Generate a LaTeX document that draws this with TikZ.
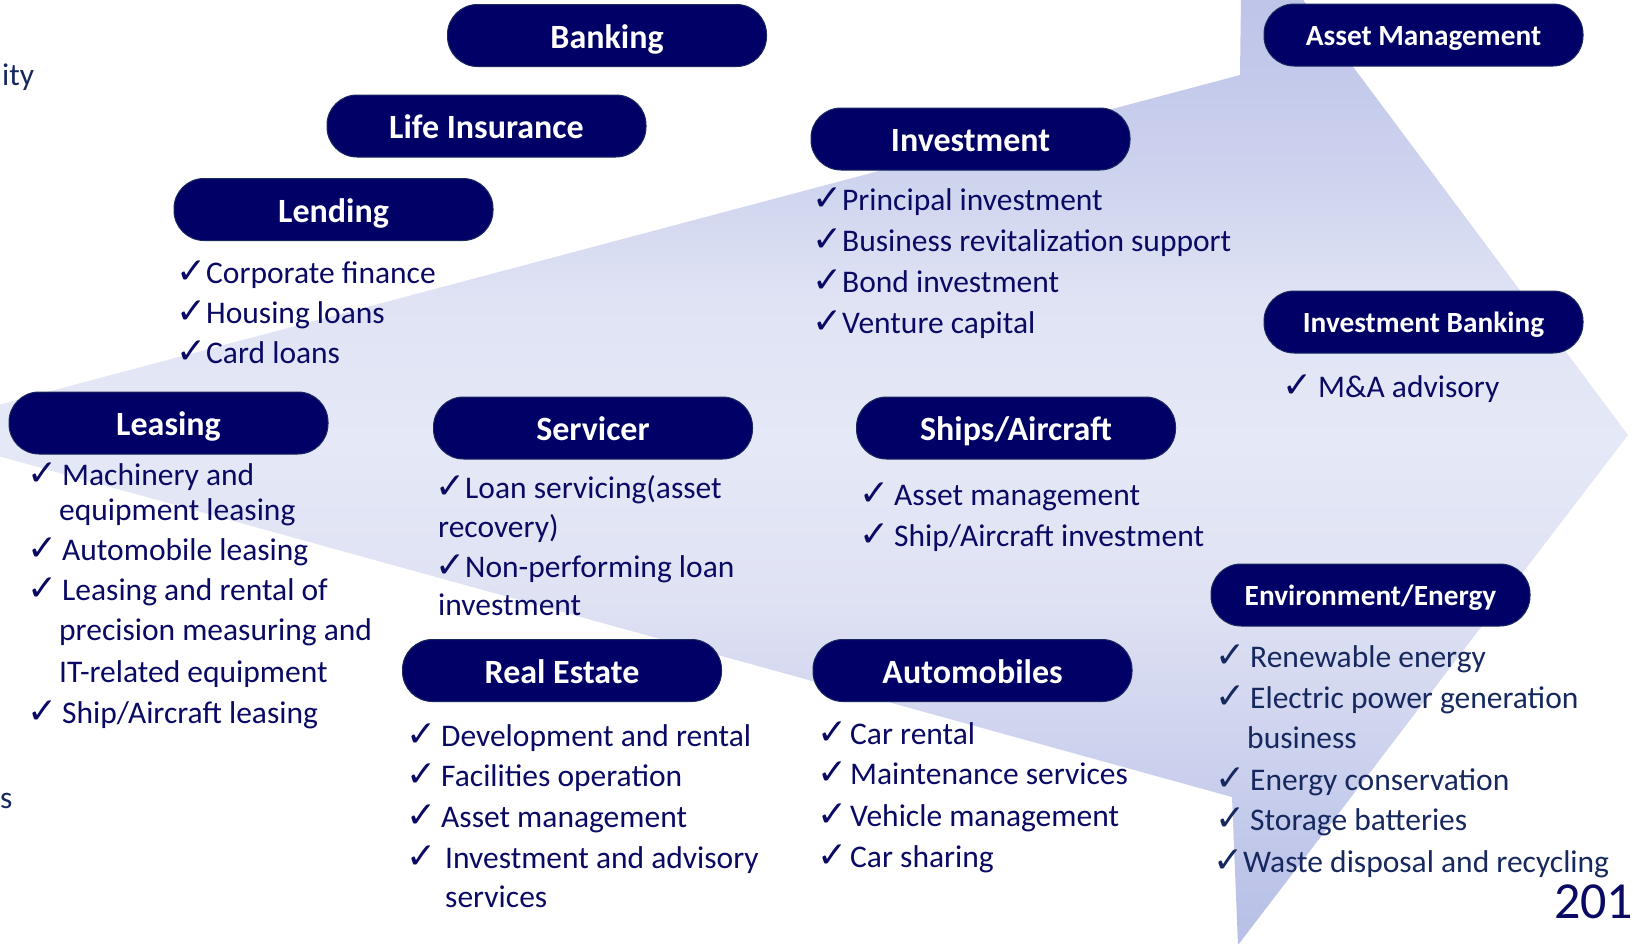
\documentclass[tikz,border=0pt]{standalone}
\usepackage{fontspec}
\setmainfont{Carlito}
\newfontfamily\chkfont{DejaVu Sans}
\definecolor{boxnavy}{RGB}{0,0,102}
\definecolor{boxedge}{RGB}{25,40,95}
\definecolor{textnavy}{RGB}{10,10,100}
\definecolor{textblue}{RGB}{22,40,94}
\pgfdeclareverticalshading{arrowsh}{100bp}{rgb(0bp)=(0.718,0.749,0.902); rgb(25bp)=(0.718,0.749,0.902); rgb(29.6bp)=(0.753,0.780,0.914); rgb(34.5bp)=(0.804,0.824,0.933); rgb(41.8bp)=(0.875,0.886,0.953); rgb(49.6bp)=(0.898,0.910,0.965); rgb(56.4bp)=(0.878,0.890,0.957); rgb(62.7bp)=(0.804,0.827,0.933); rgb(67.4bp)=(0.765,0.788,0.918); rgb(75bp)=(0.725,0.753,0.902); rgb(100bp)=(0.725,0.753,0.902)}
% tight check (text right after the mark)
\newcommand\ck[1]{\makebox[#1pt][r]{\chkfont\fontsize{36}{40}\selectfont ✓}}
% spaced check (gap between mark and text)
\newcommand\cks[1]{\makebox[#1pt][l]{\hspace*{-4.5pt}\chkfont\fontsize{36}{40}\selectfont ✓}}
\begin{document}
\begin{tikzpicture}[x=1pt,y=-1pt,
 pill/.style={draw=boxedge, line width=1pt, fill=boxnavy, text=white, rounded corners=30pt, minimum width=319pt, minimum height=62pt, inner sep=0pt, text height=25pt, text depth=0pt, font=\bfseries\fontsize{34}{40}\selectfont},
 pillsm/.style={pill, text height=21pt, font=\bfseries\fontsize{29.3}{34}\selectfont},
 item/.style={anchor=base west, inner sep=0pt, text=textnavy, font=\fontsize{31.5}{38}\selectfont},
 itemb/.style={item, text=textblue}]
\useasboundingbox (0,0) rectangle (1633,943);
\begin{scope}
\clip (0,0) rectangle (1633,943);
\shade[shading=arrowsh] (-96,430) -- (1240,75) -- (1242,-82) -- (1628,435) -- (1238,945) -- (1232,797) -- cycle;
\end{scope}

\node[pill] (banking) at (607,35.5) {Banking};
\node[pill] (life) at (486.5,126) {Life Insurance};
\node[pill] (lending) at (333.5,209.5) {Lending};
\node[pill] (invest) at (970.5,139) {Investment};
\node[pillsm] (asset) at (1423.5,35) {Asset Management};
\node[pillsm] (ib) at (1423.5,322) {Investment Banking};
\node[pill] (leasing) at (168.5,423) {Leasing};
\node[pill] (servicer) at (593,428) {Servicer};
\node[pill] (ships) at (1016,428) {Ships/Aircraft};
\node[pillsm] (env) at (1370.5,595) {Environment/Energy};
\node[pill] (realestate) at (562,670.5) {Real Estate};
\node[pill] (auto) at (972.5,670.5) {Automobiles};

% Lending
\node[item] (ld1) at (183,283) {\ck{23}Corporate finance};
\node[item] (ld2) at (183,323) {\ck{23}Housing loans};
\node[item] (ld3) at (183,363) {\ck{23}Card loans};
% Investment
\node[item] (in1) at (818,210) {\ck{24}Principal investment};
\node[item] (in2) at (818,251) {\ck{24}Business revitalization support};
\node[item] (in3) at (818,292) {\ck{24}Bond investment};
\node[item] (in4) at (818,333) {\ck{24}Venture capital};
% Investment Banking
\node[item] (ib1) at (1287,397) {\cks{31}M\&A advisory};
% Leasing
\node[item] (ls1) at (32,485) {\cks{30}Machinery and};
\node[item] (ls1b) at (59,520) {equipment leasing};
\node[item] (ls2) at (32,560) {\cks{30}Automobile leasing};
\node[item] (ls3) at (32,600) {\cks{30}Leasing and rental of};
\node[item] (ls3b) at (59,640) {precision measuring and};
\node[item] (ls3c) at (59,682) {IT-related equipment};
\node[item] (ls4) at (32,723) {\cks{30}Ship/Aircraft leasing};
% Servicer
\node[item] (sv1) at (440,498) {\ck{25}Loan servicing(asset};
\node[item] (sv1b) at (438,537) {recovery)};
\node[item] (sv2) at (440,577) {\ck{25}Non-performing loan};
\node[item] (sv2b) at (438,615) {investment};
% Ships/Aircraft
\node[item] (sh1) at (864,505) {\cks{30}Asset management};
\node[item] (sh2) at (864,546) {\cks{30}Ship/Aircraft investment};
% Real Estate
\node[item] (re1) at (411,746) {\cks{30}Development and rental};
\node[item] (re2) at (411,786) {\cks{30}Facilities operation};
\node[item] (re3) at (411,827) {\cks{30}Asset management};
\node[item] (re4) at (411,868) {\cks{34}Investment and advisory};
\node[item] (re4b) at (445,907) {services};
% Automobiles
\node[item] (au1) at (822,744) {\cks{28}Car rental};
\node[item] (au2) at (822,784) {\cks{28}Maintenance services};
\node[item] (au3) at (822,826) {\cks{28}Vehicle management};
\node[item] (au4) at (822,867) {\cks{28}Car sharing};
% Environment/Energy
\node[itemb] (en1) at (1220,667) {\cks{30}Renewable energy};
\node[itemb] (en2) at (1220,708) {\cks{30}Electric power generation};
\node[itemb] (en2b) at (1247,748) {business};
\node[itemb] (en3) at (1220,790) {\cks{30}Energy conservation};
\node[itemb] (en4) at (1220,830) {\cks{30}Storage batteries};
\node[itemb] (en5) at (1220,872) {\ck{23}Waste disposal and recycling};
% fragments
\node[itemb] (frag1) at (2,85) {ity};
\node[itemb] (frag2) at (0,808) {s};
\node[anchor=base west, inner sep=0pt, text=textnavy, font=\fontsize{52}{60}\selectfont] (num) at (1554,918) {201};
\end{tikzpicture}
\end{document}
